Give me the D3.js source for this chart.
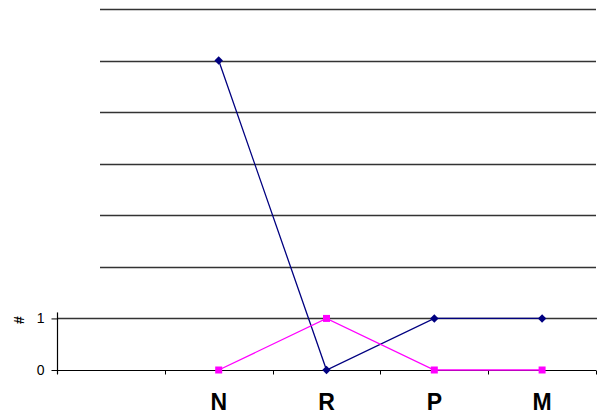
<!DOCTYPE html>
<html>
<head>
<meta charset="utf-8">
<script src="https://cdn.jsdelivr.net/npm/d3@7"></script>
<style>
  html, body { margin: 0; padding: 0; background: #fff; }
  svg { display: block; }
</style>
</head>
<body>
<svg id="chart" width="601" height="416"></svg>
<script>
// Categories along the x axis (first slot is left empty)
const categories = ["", "N", "R", "P", "M"];
// Series values per category
const seriesBlue = [null, 6, 0, 1, 1];
const seriesPink = [null, 0, 1, 0, 0];
// Labelled y ticks and the upper gridline values
const yTickLabels = [0, 1];
const upperGrid = [2, 3, 4, 5, 6, 7];

(function () {
const svg = d3.select("#chart");
const plotLeft = 57, plotRight = 596, plotTop = 9, plotBottom = 370;

const x = d3.scaleBand().domain(categories).range([plotLeft, plotRight]).padding(0);
const y = d3.scaleLinear().domain([0, 7]).range([plotBottom, plotTop]);
const cx = c => x(c) + x.bandwidth() / 2;

// Upper gridlines (no labels)
svg.append("g").selectAll("line").data(upperGrid).join("line")
  .attr("x1", 100).attr("x2", plotRight)
  .attr("y1", d => Math.round(y(d)) + 0.5).attr("y2", d => Math.round(y(d)) + 0.5)
  .attr("stroke", "#333").attr("stroke-width", 1.3);

// Gridline at 1
svg.append("line")
  .attr("x1", plotLeft).attr("x2", plotRight + 1)
  .attr("y1", Math.round(y(1)) + 0.5).attr("y2", Math.round(y(1)) + 0.5)
  .attr("stroke", "#333").attr("stroke-width", 1.3);

// Y axis
const yAxis = d3.axisLeft(y).tickValues(yTickLabels).tickSize(6).tickPadding(7).tickFormat(d3.format("d"));
const gy = svg.append("g").attr("transform", `translate(${plotLeft + 0.5},0)`).call(yAxis);
gy.select(".domain").remove();
gy.selectAll("line").attr("stroke", "#000");
gy.selectAll("text").attr("font-family", "Arial, 'Liberation Sans', sans-serif")
  .attr("font-size", 14).attr("fill", "#000");
gy.append("line").attr("x1", 0).attr("x2", 0)
  .attr("y1", y(1) - 6).attr("y2", plotBottom + 4)
  .attr("stroke", "#000").attr("stroke-width", 1.2);

// X axis with ticks at band boundaries
const gx = svg.append("g").attr("transform", `translate(0,${plotBottom + 0.5})`);
gx.append("line").attr("x1", plotLeft).attr("x2", plotRight)
  .attr("y1", 0).attr("y2", 0).attr("stroke", "#000").attr("stroke-width", 1.2);
const boundaries = categories.map(c => x(c)).concat([plotRight]);
gx.selectAll("line.tick").data(boundaries).join("line").attr("class", "tick")
  .attr("x1", d => Math.round(d) + 0.5).attr("x2", d => Math.round(d) + 0.5)
  .attr("y1", 0).attr("y2", 4).attr("stroke", "#000");
gx.selectAll("text").data(categories.filter(c => c !== "")).join("text")
  .attr("transform", d => `translate(${cx(d)},39)`)
  .attr("text-anchor", "middle")
  .attr("font-family", "Arial, 'Liberation Sans', sans-serif")
  .attr("font-weight", "bold").attr("font-size", 23).attr("fill", "#000")
  .text(d => d);

// Y axis title
svg.append("text")
  .attr("transform", "translate(23.5,320) rotate(-90)")
  .attr("text-anchor", "middle")
  .attr("font-family", "Arial, 'Liberation Sans', sans-serif")
  .attr("font-weight", "bold").attr("font-size", 14).attr("fill", "#000")
  .text("#");

// Diamond marker: a square turned 45 degrees
const diamond = {
  draw(ctx, size) {
    const r = Math.sqrt(size / 2);
    ctx.moveTo(0, -r); ctx.lineTo(r, 0); ctx.lineTo(0, r); ctx.lineTo(-r, 0); ctx.closePath();
  }
};

function drawSeries(values, color, symbolType, size) {
  const pts = categories.map((c, i) => ({ c, v: values[i] })).filter(d => d.v !== null);
  const line = d3.line().x(d => cx(d.c)).y(d => y(d.v));
  svg.append("path").datum(pts).attr("d", line)
    .attr("fill", "none").attr("stroke", color).attr("stroke-width", 1.3);
  svg.append("g").selectAll("path").data(pts).join("path")
    .attr("transform", d => `translate(${cx(d.c)},${y(d.v)})`)
    .attr("d", d3.symbol().type(symbolType).size(size))
    .attr("fill", color);
}

drawSeries(seriesBlue, "#000080", diamond, 36);
drawSeries(seriesPink, "#FF00FF", d3.symbolSquare, 49);
})();
</script>
</body>
</html>
